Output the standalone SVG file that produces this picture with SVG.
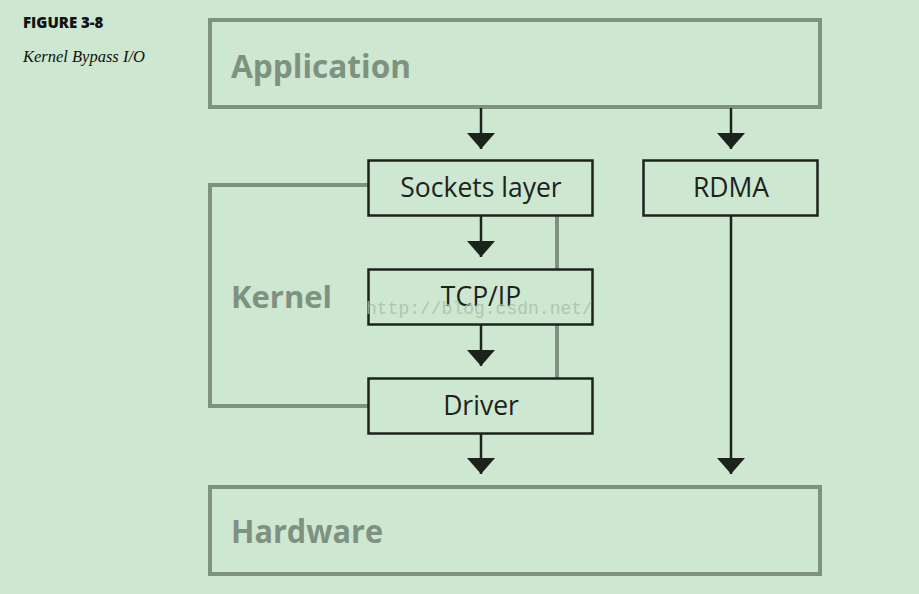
<svg xmlns="http://www.w3.org/2000/svg" width="919" height="594" viewBox="0 0 919 594">
<defs>
<style>
.bg{fill:#cde7d0}
.layer{fill:none;stroke:#7f9180;stroke-width:4}
.ltext{font-family:"Open Sans","Liberation Sans",sans-serif;font-weight:700;fill:#7f9180}
.box{fill:none;stroke:#1c231d;stroke-width:2.5}
.btext{font-family:"Open Sans","Liberation Sans",sans-serif;font-size:26.5px;fill:#1c231d;text-anchor:middle}
.conn{stroke:#1c231d;stroke-width:2.5;fill:none}
.gray{stroke:#7f9180;stroke-width:4;fill:none}
</style>
<marker id="ah" viewBox="0 0 16 28" refX="16" refY="14" markerWidth="16" markerHeight="28" markerUnits="userSpaceOnUse" orient="auto">
<path d="M0,0 L16,14 L0,28 Z" fill="#1c231d"/>
</marker>
</defs>
<rect class="bg" x="0" y="0" width="919" height="594"/>
<text x="23" y="28" font-family="'Open Sans','Liberation Sans',sans-serif" font-weight="800" font-size="15" fill="#111">FIGURE 3-8</text>
<text x="23" y="62" font-family="'Liberation Serif',serif" font-style="italic" font-size="16.5" fill="#111">Kernel Bypass I/O</text>

<g id="application">
<rect class="layer" x="210" y="20" width="610" height="87"/>
<text class="ltext" x="231" y="78" font-size="32" textLength="180" lengthAdjust="spacingAndGlyphs">Application</text>
</g>
<g id="hardware">
<rect class="layer" x="210" y="487" width="610" height="87"/>
<text class="ltext" x="231" y="543" font-size="32" textLength="152" lengthAdjust="spacingAndGlyphs">Hardware</text>
</g>
<g id="kernel">
<path class="gray" d="M368,185 H210 V406 H368"/>
<path class="gray" d="M557,215 V269 M557,324 V378"/>
<text class="ltext" x="231" y="308" font-size="30" textLength="101" lengthAdjust="spacingAndGlyphs">Kernel</text>
</g>
<g id="sockets">
<rect class="box" x="368.5" y="160.5" width="224" height="55"/>
<text class="btext" x="481" y="197">Sockets layer</text>
</g>
<g id="tcpip">
<rect class="box" x="368.5" y="269.5" width="224" height="55"/>
<text class="btext" x="481" y="306">TCP/IP</text>
</g>
<g id="driver">
<rect class="box" x="368.5" y="378.5" width="224" height="55"/>
<text class="btext" x="481" y="415">Driver</text>
</g>
<g id="rdma">
<rect class="box" x="643.5" y="160.5" width="174" height="55"/>
<text class="btext" x="731" y="197">RDMA</text>
</g>
<g id="connectors">
<line class="conn" x1="481" y1="108" x2="481" y2="149" marker-end="url(#ah)"/>
<line class="conn" x1="731" y1="108" x2="731" y2="149" marker-end="url(#ah)"/>
<line class="conn" x1="481" y1="216" x2="481" y2="257" marker-end="url(#ah)"/>
<line class="conn" x1="481" y1="325" x2="481" y2="366" marker-end="url(#ah)"/>
<line class="conn" x1="481" y1="434" x2="481" y2="474" marker-end="url(#ah)"/>
<line class="conn" x1="731" y1="216" x2="731" y2="474" marker-end="url(#ah)"/>
</g>
<text x="366" y="314" font-family="'Liberation Mono',monospace" font-size="18" fill="#a8bfab" opacity="0.8">http://blog.csdn.net/</text>
</svg>
